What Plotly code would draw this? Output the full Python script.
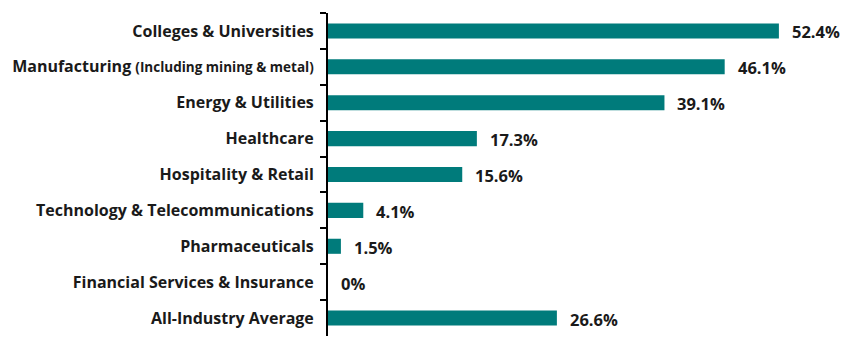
import plotly.graph_objects as go

categories = [
    "Colleges & Universities",
    "Manufacturing <span style=\"font-size:13.5px\"><b>(Including mining & metal)</b></span>",
    "Energy & Utilities",
    "Healthcare",
    "Hospitality & Retail",
    "Technology & Telecommunications",
    "Pharmaceuticals",
    "Financial Services & Insurance",
    "All-Industry Average",
]
values = [52.4, 46.1, 39.1, 17.3, 15.6, 4.1, 1.5, 0, 26.6]
value_labels = ["52.4%", "46.1%", "39.1%", "17.3%", "15.6%", "4.1%", "1.5%", "0%", "26.6%"]

BAR = "#007b7b"
TXT = "#1a1a1a"
FONT = "Open Sans"

fig = go.Figure(go.Bar(
    x=values, y=categories, orientation="h",
    marker=dict(color=BAR, line=dict(width=0)),
    width=0.42, hoverinfo="skip",
))

for v, c, t in zip(values, categories, value_labels):
    fig.add_annotation(x=v, y=c, text="<b>%s</b>" % t, showarrow=False,
                       xanchor="left", xshift=11, yshift=-1,
                       font=dict(family=FONT, size=16.5, color=TXT))

fig.update_layout(
    width=858, height=337,
    margin=dict(l=328, r=18, t=13, b=1),
    paper_bgcolor="white", plot_bgcolor="white",
    showlegend=False,
    font=dict(family=FONT, size=16, color=TXT),
)
fig.update_xaxes(range=[0, 59.5], visible=False, showgrid=False, zeroline=False)
fig.update_yaxes(
    autorange="reversed", showgrid=False, zeroline=False,
    showline=True, linecolor="black", linewidth=2,
    ticks="outside", ticklen=6, tickwidth=2, tickcolor="black",
    tickson="boundaries", ticklabelstandoff=9,
    tickfont=dict(family=FONT, size=16, color=TXT, weight="bold"),
)

fig.write_html("out.html")
